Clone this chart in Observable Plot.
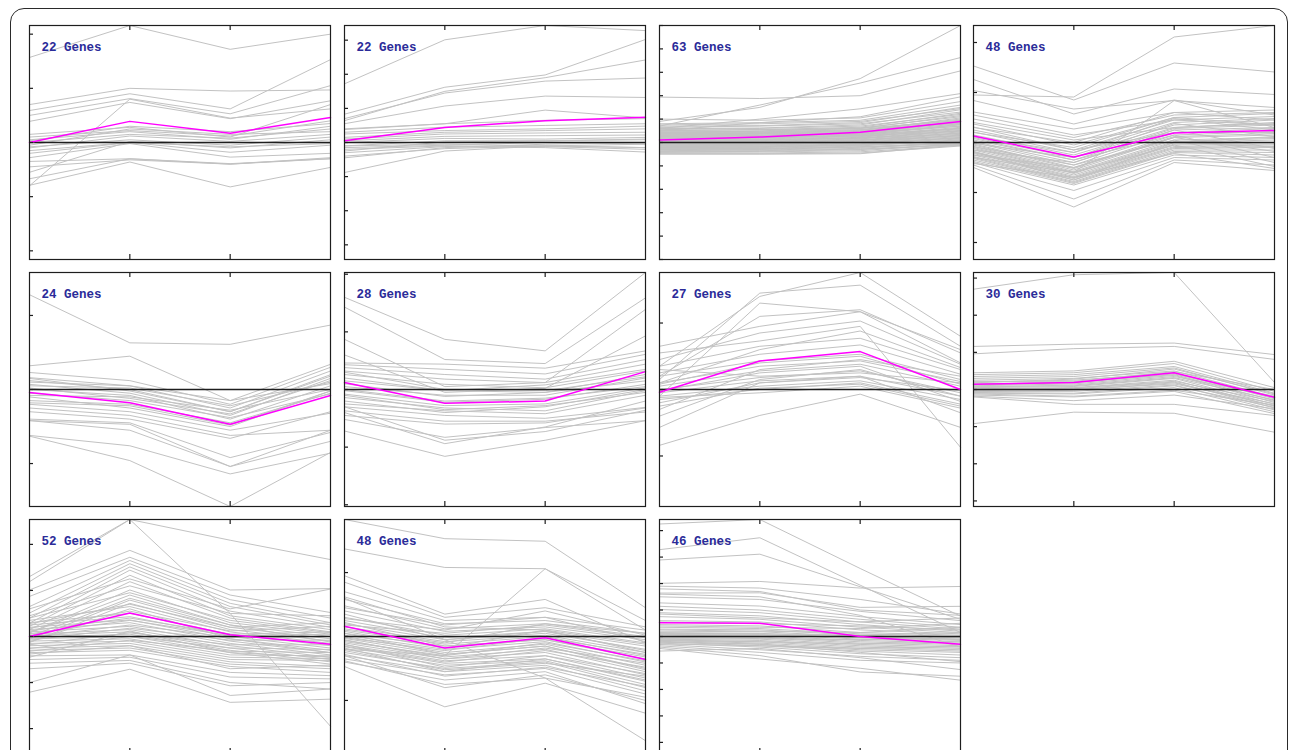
<!DOCTYPE html>
<html><head><meta charset="utf-8">
<script src="https://cdn.jsdelivr.net/npm/d3@7"></script>
<script src="https://cdn.jsdelivr.net/npm/@observablehq/plot@0.6"></script>
<style>
body{margin:0;background:#fff;}
#wrap{position:relative;width:1290px;height:750px;overflow:hidden;background:#fff;}
#border{position:absolute;left:10px;top:8px;width:1276px;height:790px;border:1.6px solid #2a2a2a;border-radius:14px;}
.panel{position:absolute;}
</style></head><body><div id="wrap"><div id="border"></div></div>
<script>
const timepoints = [0, 1, 2, 3];
const geneCounts = [22, 22, 63, 48, 24, 28, 27, 30, 52, 48, 46];

const p1Mean = [0, 0.39, 0.17, 0.46];
const p1Genes = [
[1.57,2.16,1.72,2.0],[0.70,1.0,0.95,0.97],[0.59,0.90,0.62,1.53],[0.50,0.81,0.53,1.05],
[0.39,0.74,0.44,0.77],[-0.80,0.80,0.45,0.62],[0.15,0.28,0.10,0.70],[0.10,0.22,0.12,0.40],
[0.05,0.20,0.06,0.30],[0.0,0.15,0.08,0.25],[-0.05,0.25,0.15,0.20],[-0.10,0.12,0.02,0.15],
[-0.08,0.05,-0.05,0.10],[-0.15,0.0,-0.08,-0.02],[-0.20,0.0,-0.18,-0.05],[-0.28,-0.02,-0.27,-0.20],
[-0.35,-0.30,-0.40,-0.28],[-0.45,-0.32,-0.40,-0.30],[-0.67,-0.30,-0.39,-0.30],[-0.79,-0.36,-0.82,-0.46],
[-0.55,0.02,-0.10,0.05],[0.03,0.30,0.20,0.35]];

const p2Mean = [0.05, 0.44, 0.64, 0.74];
const p2Genes = [
[1.72,3.01,3.43,3.28],[0.83,1.62,1.98,3.02],[0.64,1.50,1.90,2.42],[0.70,1.45,1.80,1.89],
[0.55,1.07,1.36,1.32],[0.38,0.55,0.95,0.72],[0.40,0.55,0.65,0.70],[0.30,0.45,0.50,0.55],
[0.25,0.35,0.40,0.48],[0.15,0.30,0.35,0.40],[0.10,0.25,0.28,0.30],[0.05,0.18,0.20,0.22],
[0.0,0.12,0.10,0.15],[-0.10,0.05,0.05,0.08],[-0.88,-0.25,-0.10,-0.15],[-0.10,-0.05,-0.10,-0.15],
[-0.20,-0.10,-0.12,-0.20],[-0.30,-0.12,-0.15,-0.28],[-0.40,-0.18,-0.10,-0.05],[-0.15,-0.08,0.0,-0.05],
[-0.25,0.02,0.05,0.10],[-0.45,-0.15,-0.05,0.0]];

const p3Mean = [0.11, 0.23, 0.44, 0.90];
const p3Genes = [
[0.90,1.50,2.73,5.00],[0.70,1.60,2.54,3.63],[1.94,1.88,2.00,3.06],[0.60,1.00,1.44,2.09],
[0.50,0.85,1.10,1.95],[1.00,0.95,1.05,1.75],
[0.80,0.85,0.95,1.60],[0.75,0.80,0.90,1.45],[0.70,0.72,0.85,1.50],[0.65,0.70,0.80,1.30],
[0.60,0.62,0.75,1.40],[0.55,0.60,0.70,1.20],[0.50,0.55,0.65,1.25],[0.48,0.50,0.62,1.10],
[0.45,0.48,0.60,1.15],[0.42,0.45,0.55,1.00],[0.40,0.42,0.50,1.05],[0.38,0.40,0.52,0.95],
[0.35,0.38,0.48,0.90],[0.32,0.35,0.45,0.85],[0.30,0.32,0.42,0.80],[0.28,0.30,0.40,0.88],
[0.25,0.28,0.38,0.75],[0.22,0.25,0.35,0.70],[0.20,0.22,0.32,0.78],[0.18,0.20,0.30,0.65],
[0.15,0.18,0.28,0.60],[0.12,0.15,0.25,0.55],[0.10,0.12,0.22,0.62],[0.08,0.10,0.20,0.50],
[0.05,0.08,0.18,0.45],[0.03,0.05,0.15,0.52],[0.00,0.02,0.12,0.40],[-0.02,0.00,0.10,0.35],
[-0.05,-0.02,0.08,0.42],[-0.08,-0.05,0.05,0.30],[-0.10,-0.08,0.02,0.25],[-0.12,-0.10,0.00,0.32],
[-0.15,-0.12,-0.02,0.20],[-0.18,-0.15,-0.05,0.15],[-0.20,-0.18,-0.08,0.22],[-0.22,-0.20,-0.10,0.10],
[-0.25,-0.22,-0.12,0.05],[-0.28,-0.25,-0.15,0.12],[-0.30,-0.28,-0.18,0.00],[-0.32,-0.30,-0.20,-0.05],
[-0.35,-0.32,-0.25,0.02],[-0.38,-0.35,-0.28,-0.08],[-0.40,-0.38,-0.30,-0.10],[-0.42,-0.40,-0.35,-0.05],
[-0.45,-0.45,-0.40,-0.12],[-0.48,-0.48,-0.45,-0.15],[-0.50,-0.50,-0.48,-0.10],
[0.62,0.55,0.60,0.95],[0.52,0.45,0.55,0.82],[0.44,0.38,0.42,0.70],[0.36,0.30,0.35,0.58],
[0.26,0.22,0.28,0.48],[0.16,0.12,0.18,0.38],[0.06,0.04,0.10,0.28],[-0.04,-0.06,0.00,0.18],
[-0.14,-0.16,-0.10,0.08],[-0.24,-0.26,-0.20,-0.02]];

const p4Mean = [0.13, -0.29, 0.19, 0.24];
const p4Genes = [
[0.95,0.91,2.11,2.34],[1.53,0.85,1.59,1.41],[1.26,0.57,1.07,0.96],[1.04,0.67,0.84,0.70],
[0.84,0.37,0.85,0.55],[0.61,0.27,0.60,0.65],[0.47,0.10,0.55,0.60],[0.37,-0.05,0.50,0.58],
[0.31,-0.15,0.45,0.52],[0.21,-0.20,0.40,0.48],[0.15,-0.25,0.35,0.45],[0.10,-0.30,0.30,0.40],
[0.05,-0.35,0.28,0.35],[0.02,-0.40,0.25,0.30],[0.0,-0.45,0.20,0.28],[-0.03,-0.50,0.15,0.22],
[-0.05,-0.52,0.12,0.18],[-0.08,-0.55,0.10,0.15],[-0.10,-0.58,0.05,0.10],[-0.12,-0.60,0.02,0.08],
[-0.15,-0.62,0.0,0.05],[-0.18,-0.65,-0.03,0.0],[-0.20,-0.68,-0.05,-0.03],[-0.22,-0.70,-0.08,-0.05],
[-0.25,-0.72,-0.10,-0.08],[-0.28,-0.75,-0.12,-0.10],[-0.30,-0.78,-0.15,-0.15],[-0.32,-0.80,-0.18,-0.20],
[-0.35,-0.82,-0.20,-0.25],[-0.38,-0.85,-0.25,-0.30],[-0.40,-0.96,-0.30,-0.35],[-0.45,-1.13,-0.35,-0.45],
[-0.50,-1.29,-0.40,-0.56],[0.30,0.00,0.60,0.45],[0.20,-0.10,0.50,0.35],[0.12,-0.20,0.48,0.25],
[-0.02,-0.30,0.38,0.12],[-0.15,-0.40,0.25,-0.12],[-0.25,-0.50,0.10,-0.18],[-0.08,-0.45,0.05,-0.40],
[0.08,-0.35,0.15,-0.30],[-0.30,-0.60,-0.05,-0.48],[0.25,-0.15,0.20,0.20],[0.40,0.05,0.30,0.38],
[-0.42,-0.70,-0.22,-0.52],[-0.20,-0.60,0.84,0.30],[0.55,0.15,0.45,0.35],[-0.18,-0.75,0.00,0.12]];

const p5Mean = [-0.04, -0.18, -0.47, -0.08];
const p5Genes = [
[1.28,0.63,0.61,0.87],[0.32,0.45,-0.15,0.34],[0.23,0.12,-0.20,0.30],[0.16,0.05,-0.25,0.25],
[0.12,0.0,-0.30,0.20],[0.07,-0.05,-0.35,0.15],[0.05,0.02,-0.22,0.10],[0.0,-0.08,-0.40,0.05],
[-0.08,-0.10,-0.28,0.0],[-0.15,-0.20,-0.45,-0.05],[-0.10,-0.25,-0.50,-0.02],[-0.20,-0.30,-0.55,-0.32],
[-0.25,-0.35,-0.62,-0.55],[-0.40,-0.45,-0.92,-0.58],[-0.42,-0.47,-1.04,-0.70],[-0.62,-0.76,-1.14,-0.86],
[-0.63,-0.96,-1.58,-0.85],[-0.42,-0.55,-1.04,-0.55],[0.02,-0.12,-0.33,0.12],[-0.05,-0.15,-0.38,-0.06],
[0.10,0.05,-0.15,0.08],[-0.18,-0.22,-0.48,-0.02],[0.15,-0.02,-0.30,0.18],[-0.30,-0.40,-0.66,-0.30]];

const p6Mean = [0.12, -0.24, -0.20, 0.31];
const p6Genes = [
[1.60,0.87,0.67,2.03],[1.43,0.52,0.45,1.59],[0.87,0.05,0.12,1.39],[0.60,-0.05,0.02,0.93],
[0.46,0.44,0.37,0.67],[0.43,0.35,0.27,0.61],[0.38,0.26,0.18,0.52],[0.32,0.18,0.12,0.44],
[0.26,0.09,0.03,0.32],[0.15,-0.02,-0.05,0.26],[0.05,-0.10,-0.10,0.20],[-0.02,-0.22,-0.17,0.09],
[-0.08,-0.28,-0.25,0.03],[-0.14,-0.32,-0.37,-0.02],[-0.25,-0.37,-0.42,-0.10],[-0.30,-0.45,-0.50,-0.31],
[-0.37,-0.55,-0.55,-0.39],[-0.52,-0.83,-0.66,-0.54],[-0.72,-1.16,-0.88,-0.54],[-0.30,-0.88,-0.73,-0.36],
[-0.40,-0.94,-0.65,-0.20],[0.20,-0.02,0.08,0.35],[0.10,-0.12,-0.05,0.15],[-0.20,-0.40,-0.30,0.0],
[0.0,-0.20,-0.15,0.05],[-0.10,-0.35,-0.28,-0.05],[-0.45,-0.60,-0.58,-0.32],[0.30,0.00,-0.02,0.22]];

const p7Mean = [-0.04, 0.43, 0.57, 0.0];
const p7Genes = [
[0.35,1.40,1.76,0.80],[0.15,1.45,1.57,0.65],[-0.10,1.30,1.17,0.60],[0.65,0.95,1.17,0.40],
[0.55,0.73,0.95,-0.87],[0.45,0.85,1.03,0.38],[0.35,0.65,0.77,0.30],[0.25,0.53,0.67,0.23],
[0.20,0.43,0.53,0.15],[0.10,0.35,0.43,0.12],[0.05,0.28,0.38,0.05],[0.0,0.18,0.28,-0.05],
[-0.05,0.13,0.20,-0.10],[-0.10,0.05,0.13,-0.15],[-0.15,0.0,0.10,-0.22],[-0.20,0.10,0.18,-0.02],
[-0.25,0.02,0.08,-0.25],[-0.57,0.10,0.20,-0.35],[-0.84,-0.39,-0.07,-0.57],[0.30,0.20,0.25,0.10],
[-0.30,0.30,0.45,0.20],[0.10,0.60,0.88,0.33],[-0.40,0.15,0.30,-0.10],[0.20,1.10,1.20,0.55],
[-0.02,0.25,0.35,-0.18],[0.08,0.40,0.50,0.08],[-0.12,-0.05,0.05,-0.28]];

const p8Mean = [0.14, 0.19, 0.45, -0.21];
const p8Genes = [
[2.70,3.09,3.15,0.19],[1.16,1.22,1.25,0.94],[0.96,1.10,1.16,0.81],[0.45,0.50,0.76,0.05],
[0.40,0.45,0.70,-0.05],[0.35,0.40,0.62,-0.10],[0.30,0.35,0.58,-0.15],[0.25,0.30,0.50,-0.20],
[0.20,0.25,0.45,-0.25],[0.15,0.20,0.40,-0.30],[0.10,0.15,0.38,-0.35],[0.08,0.10,0.32,-0.28],
[0.05,0.08,0.30,-0.40],[0.02,0.05,0.25,-0.45],[0.0,0.02,0.20,-0.50],[-0.03,0.0,0.15,-0.38],
[-0.05,-0.05,0.12,-0.55],[-0.08,-0.10,0.10,-0.48],[-0.10,-0.12,0.05,-0.60],[-0.12,-0.18,-0.02,-0.42],
[-0.15,-0.20,-0.05,-0.65],[-0.18,-0.30,-0.15,-0.52],[-0.20,-0.40,-0.40,-0.70],[-0.92,-0.61,-0.64,-1.15],
[0.12,0.18,0.42,-0.22],[0.18,0.28,0.55,-0.12],[-0.02,0.04,0.22,-0.32],[0.06,0.12,0.35,-0.18],
[-0.06,-0.02,0.18,-0.44],[0.22,0.22,0.48,0.0]];

const p9Mean = [0, 0.51, 0.04, -0.17];
const p9Genes = [
[1.30,2.54,2.09,1.67],[1.19,2.54,0.50,-1.95],[1.01,1.87,1.01,1.04],[0.87,1.72,0.90,0.52],
[0.65,1.65,0.80,0.40],[0.51,1.58,0.72,0.30],[0.40,1.51,0.65,0.25],[0.29,1.44,0.55,0.20],
[0.22,1.33,0.45,0.15],[0.15,1.19,0.40,0.10],[0.08,1.01,0.30,0.05],[0.0,0.83,0.25,0.0],
[-0.06,0.79,0.20,-0.05],[-0.13,0.72,0.15,-0.10],[0.35,0.65,0.10,-0.15],[0.30,0.50,0.05,-0.20],
[0.25,0.43,0.0,-0.25],[0.20,0.36,-0.05,-0.30],[0.15,0.30,-0.10,-0.35],[0.10,0.22,-0.15,-0.40],
[0.05,0.15,-0.20,-0.45],[0.02,0.10,-0.25,-0.50],[-0.02,0.05,-0.30,-0.55],[-0.05,0.0,-0.35,-0.60],
[-0.10,-0.05,-0.40,-0.42],[-0.15,-0.10,-0.45,-0.48],[-0.20,-0.15,-0.50,-0.52],[-0.25,-0.20,-0.55,-0.65],
[-0.30,-0.25,-0.60,-0.70],[-0.35,-0.30,-0.65,-0.78],[-0.42,-0.40,-0.78,-0.85],[-0.50,-0.45,-0.88,-0.92],
[-0.58,-0.52,-1.00,-1.14],[-0.70,-0.58,-1.07,-1.00],[-1.00,-0.40,-1.28,-1.14],[-1.21,-0.71,-1.43,-1.36],
[0.12,0.40,0.05,0.10],[0.06,0.35,0.02,0.05],[-0.02,0.25,-0.02,0.0],[-0.08,0.18,-0.08,-0.08],
[-0.18,0.08,-0.18,-0.18],[-0.26,0.0,-0.25,-0.28],[-0.32,-0.08,-0.32,-0.35],[0.18,0.55,0.12,0.22],
[0.28,0.70,0.20,0.30],[0.45,1.10,0.50,0.45],[0.60,1.25,0.60,1.03],[-0.45,0.12,-0.35,-0.45],
[0.08,0.90,0.25,-0.12],[-0.12,0.60,-0.05,-0.35],[0.40,0.95,0.35,0.08],[-0.38,-0.20,-0.70,-0.62]];

const p10Mean = [0.16, -0.18, -0.02, -0.36];
const p10Genes = [
[1.83,1.53,1.49,0.45],[1.37,1.08,1.06,0.25],[0.60,-0.05,-0.65,-1.63],[0.95,0.35,0.58,-0.10],
[0.85,0.30,0.45,0.15],[0.70,0.25,0.30,0.10],[0.58,0.20,0.25,0.05],[0.48,0.12,0.20,0.0],
[0.40,0.08,0.15,-0.05],[0.30,0.02,0.12,-0.10],[0.25,-0.02,0.08,-0.15],[0.20,-0.05,0.05,-0.20],
[0.15,-0.08,0.02,-0.25],[0.10,-0.12,0.0,-0.30],[0.05,-0.15,-0.05,-0.35],[0.02,-0.20,-0.08,-0.40],
[0.0,-0.25,-0.12,-0.45],[-0.03,-0.28,-0.15,-0.50],[-0.06,-0.32,-0.20,-0.55],[-0.10,-0.35,-0.25,-0.60],
[-0.13,-0.38,-0.30,-0.65],[-0.16,-0.42,-0.35,-0.70],[-0.20,-0.45,-0.38,-0.75],[-0.25,-0.50,-0.40,-0.80],
[-0.30,-0.55,-0.45,-0.85],[-0.35,-0.60,-0.50,-0.90],[-0.40,-0.68,-0.55,-1.05],[-0.47,-1.10,-0.73,-1.20],
[-0.30,-0.80,-0.60,-1.00],[-0.20,-0.30,1.06,0.10],[0.12,-0.10,0.20,0.05],[0.08,-0.18,0.10,-0.12],
[-0.02,-0.22,-0.02,-0.28],[-0.08,-0.30,-0.10,-0.38],[-0.15,-0.40,-0.22,-0.48],[0.18,0.05,0.18,-0.02],
[0.35,-0.05,0.08,-0.22],[0.22,-0.15,-0.05,-0.32],[-0.12,-0.48,-0.30,-0.58],[-0.22,-0.52,-0.42,-0.62],
[-0.28,-0.62,-0.48,-0.78],[0.45,0.18,0.30,-0.08],[-0.05,-0.35,-0.18,-0.42],[-0.38,-0.75,-0.65,-0.95],
[0.05,-0.28,-0.15,-0.52],[0.28,0.10,0.40,0.02],[-0.18,-0.55,-0.35,-0.68],[0.62,0.15,0.10,-0.25]];

const p11Mean = [0.52, 0.50, 0.0, -0.29];
const p11Genes = [
[4.25,4.42,2.57,0.77],[3.28,3.73,1.94,0.15],[2.89,3.11,1.88,0.65],[2.01,2.08,1.83,1.89],
[1.90,1.83,1.40,0.85],[1.64,1.65,1.10,1.14],[1.50,1.40,0.95,0.60],[1.27,1.15,0.75,0.45],
[1.14,1.00,0.65,0.35],[1.02,0.90,0.55,0.28],[0.90,0.78,0.45,0.20],[0.75,0.65,0.35,0.15],
[0.60,0.55,0.25,0.10],[0.45,0.40,0.15,0.05],[0.35,0.30,0.10,0.0],[0.28,0.25,0.05,-0.05],
[0.20,0.18,0.0,-0.10],[0.15,0.12,-0.05,-0.15],[0.10,0.08,-0.10,-0.20],[0.05,0.02,-0.15,-0.25],
[0.0,-0.02,-0.20,-0.30],[-0.05,-0.05,-0.25,-0.35],[-0.08,-0.10,-0.30,-0.40],[-0.10,-0.15,-0.35,-0.45],
[-0.12,-0.20,-0.40,-0.50],[-0.15,-0.25,-0.45,-0.55],[-0.18,-0.30,-0.50,-0.60],[-0.20,-0.35,-0.55,-0.70],
[-0.25,-0.40,-0.65,-0.80],[-0.30,-0.50,-0.75,-0.90],[-0.35,-0.60,-0.90,-1.00],[-0.40,-0.72,-1.34,-1.50],
[-0.45,-0.85,-1.20,-1.65],[0.40,0.35,0.30,0.50],[0.25,0.20,0.15,0.35],[0.12,0.10,0.05,0.15],
[-0.02,-0.08,-0.12,-0.05],[-0.15,-0.20,-0.28,-0.20],[-0.28,-0.35,-0.45,-0.38],[1.60,1.50,0.80,-0.40],
[1.80,1.70,1.00,0.80],[0.85,0.70,0.55,0.70],[0.55,0.48,0.40,0.25],[-0.22,-0.28,-0.60,-0.95],
[0.08,0.05,-0.02,-0.12],[-0.55,-0.45,-0.80,-1.25]];

const allGenes = [p1Genes,p2Genes,p3Genes,p4Genes,p5Genes,p6Genes,p7Genes,p8Genes,p9Genes,p10Genes,p11Genes];
const allMeans = [p1Mean,p2Mean,p3Mean,p4Mean,p5Mean,p6Mean,p7Mean,p8Mean,p9Mean,p10Mean,p11Mean];

const colX = [29, 344, 659, 973];
const rowY = [25, 272, 519];
const PW = 301, PH = 234, m = 5;
const wrap = document.getElementById("wrap");

allGenes.forEach((genes, k) => {
  const mean = allMeans[k];
  const label = `${geneCounts[k]} Genes`;
  const M = d3.max(genes.flat(), Math.abs);
  const long = genes.flatMap((g, i) => g.map((v, j) => ({gene: i, t: timepoints[j], v})));
  const meanData = mean.map((v, j) => ({t: timepoints[j], v}));
  const yt = d3.range(Math.ceil(-M), Math.floor(M) + 1);
  const xt = timepoints.slice(1, -1);
  const chart = Plot.plot({
    width: PW + 2 * m, height: PH + 2 * m, margin: m,
    x: {domain: [0, 3], axis: null},
    y: {domain: [-M, M], axis: null},
    marks: [
      Plot.line(long, {x: "t", y: "v", z: "gene", stroke: "#c2c2c2", strokeWidth: 1}),
      Plot.ruleY([0], {stroke: "#1e1e1e", strokeWidth: 1.3}),
      Plot.line(meanData, {x: "t", y: "v", stroke: "#ff00ff", strokeWidth: 1.5}),
      Plot.frame({stroke: "#1e1e1e", strokeWidth: 1.2}),
      Plot.ruleY(yt, {y: d => d, x1: 0, x2: 0, insetRight: -4, stroke: "#1e1e1e", strokeWidth: 1.2}),
      Plot.ruleX(xt, {x: d => d, y1: M, y2: M, insetBottom: -5, stroke: "#1e1e1e", strokeWidth: 1.2}),
      Plot.ruleX(xt, {x: d => d, y1: -M, y2: -M, insetTop: -5, stroke: "#1e1e1e", strokeWidth: 1.2}),
      Plot.text([label], {frameAnchor: "top-left", dx: 12, dy: 21, text: d => d, fill: "#2b2b99",
        fontFamily: "Liberation Mono", fontWeight: "bold", fontSize: 12.5, lineAnchor: "middle", textAnchor: "start"})
    ]
  });
  chart.classList.add("panel");
  chart.style.left = (colX[k % 4] - m) + "px";
  chart.style.top = (rowY[Math.floor(k / 4)] - m) + "px";
  chart.style.maxWidth = "none";
  chart.style.background = "transparent";
  wrap.appendChild(chart);
});
</script></body></html>
